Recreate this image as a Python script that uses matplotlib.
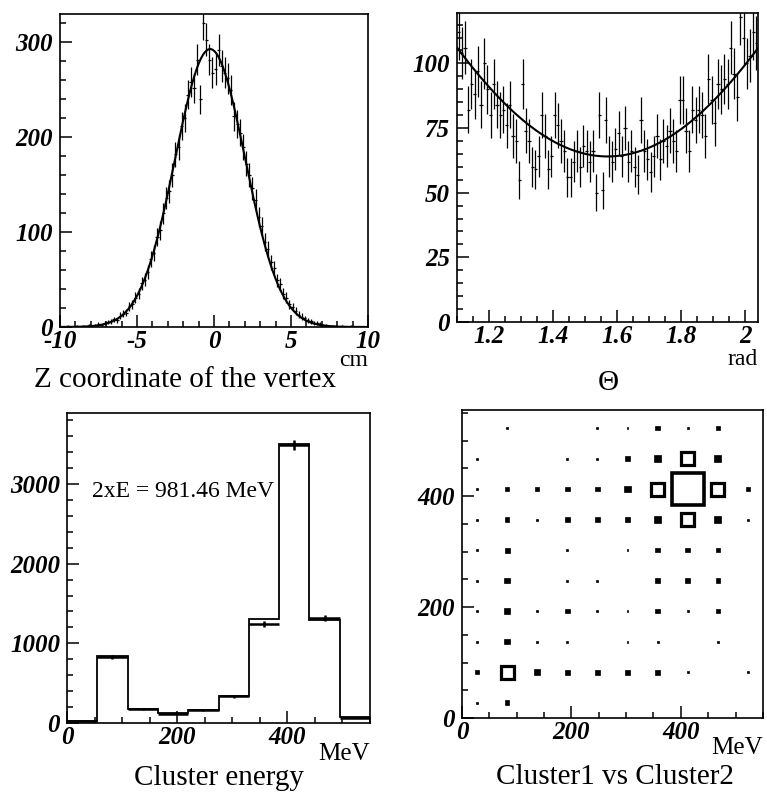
import matplotlib
matplotlib.use('Agg')

import matplotlib.pyplot as plt
import numpy as np
from matplotlib.ticker import MultipleLocator
from matplotlib.patches import Rectangle

plt.rcParams['font.family'] = ['Liberation Serif', 'DejaVu Serif']

# --- Z coordinate of the vertex: 100 bins of 0.2 cm from -10 to 10
z_edges = np.linspace(-10, 10, 101)
z_counts = [0, 0, 1, 0, 0, 1, 0, 1, 0, 2,
            1, 2, 3, 2, 4, 5, 6, 8, 7, 12,
            14, 15, 22, 24, 31, 35, 46, 50, 58, 72,
            78, 95, 102, 120, 136, 143, 160, 182, 190, 212,
            220, 245, 258, 252, 282, 240, 320, 303, 282, 268,
            272, 292, 275, 268, 262, 250, 222, 214, 205, 190,
            172, 160, 146, 134, 116, 106, 90, 82, 68, 62,
            49, 45, 35, 31, 24, 21, 17, 13, 11, 9,
            7, 6, 4, 4, 3, 2, 2, 1, 1, 1,
            0, 1, 0, 0, 1, 0, 0, 0, 0, 0]
z_fit_amp, z_fit_mean, z_fit_sigma = 293.0, -0.25, 2.27

# --- Theta: 94 bins of 0.01 rad from 1.10 to 2.04
th_edges = np.linspace(1.10, 2.04, 95)
th_counts = [112, 104, 106, 82, 92, 88, 97, 84, 100, 90,
             80, 92, 84, 80, 82, 76, 84, 72, 70, 55,
             92, 74, 70, 60, 59, 64, 80, 72, 59, 64,
             80, 76, 70, 66, 56, 56, 62, 66, 60, 68,
             66, 62, 66, 50, 80, 51, 78, 64, 62, 67,
             73, 64, 75, 62, 66, 60, 57, 78, 66, 63,
             58, 64, 72, 63, 70, 68, 74, 70, 66, 86,
             86, 74, 66, 82, 78, 82, 80, 72, 94, 86,
             77, 92, 90, 94, 92, 106, 96, 87, 118, 110,
             100, 103, 112, 108]
th_fit_min, th_fit_b = 64.0, 3.2

# --- Cluster energy: 10 bins of 55 MeV
e_edges = np.linspace(0, 550, 11)
e_mc = [20, 840, 175, 121, 162, 337, 1300, 3500, 1290, 70]
e_data = [25, 830, 172, 118, 160, 335, 1240, 3490, 1320, 65]

# --- Cluster1 vs Cluster2: 10x10 bins of 55 MeV (rows = Cluster2, cols = Cluster1)
c_edges = np.linspace(0, 550, 11)
c_counts = [
    [10, 60, 0, 0, 0, 0, 0, 0, 0, 0],
    [50, 500, 90, 60, 60, 60, 60, 10, 0, 10],
    [10, 90, 10, 10, 0, 10, 10, 0, 10, 0],
    [10, 90, 10, 60, 10, 10, 60, 10, 60, 0],
    [10, 90, 0, 10, 10, 0, 60, 60, 60, 0],
    [10, 80, 0, 10, 0, 10, 60, 60, 60, 0],
    [10, 60, 10, 60, 60, 60, 160, 500, 160, 10],
    [10, 60, 60, 60, 60, 110, 500, 3000, 500, 60],
    [10, 0, 0, 10, 10, 60, 160, 500, 160, 0],
    [0, 10, 0, 0, 10, 10, 60, 10, 60, 0],
]

tl_xticks, tl_xlabels = [-10, -5, 0, 5, 10], ['-10', '-5', '0', '5', '10']
tl_yticks, tl_ylabels = [0, 100, 200, 300], ['0', '100', '200', '300']
tr_xticks, tr_xlabels = [1.2, 1.4, 1.6, 1.8, 2.0], ['1.2', '1.4', '1.6', '1.8', '2']
tr_yticks, tr_ylabels = [0, 25, 50, 75, 100], ['0', '25', '50', '75', '100']
bl_xticks, bl_xlabels = [0, 200, 400], ['0', '200', '400']
bl_yticks, bl_ylabels = [0, 1000, 2000, 3000], ['0', '1000', '2000', '3000']
br_xticks, br_xlabels = [0, 200, 400], ['0', '200', '400']
br_yticks, br_ylabels = [0, 200, 400], ['0', '200', '400']

tick_font = dict(family='Liberation Serif', weight='bold', style='italic', size=18)


def style_axes(ax, xt, xl, yt, yl, xminor, yminor):
    ax.set_xticks(xt)
    ax.set_xticklabels(xl, fontdict=tick_font)
    ax.set_yticks(yt)
    ax.set_yticklabels(yl, fontdict=tick_font)
    ax.xaxis.set_minor_locator(MultipleLocator(xminor))
    ax.yaxis.set_minor_locator(MultipleLocator(yminor))
    ax.tick_params(which='both', direction='in', top=False, right=False, width=1.1)
    ax.tick_params(which='major', length=8.5)
    ax.tick_params(axis='x', which='major', pad=2.5)
    ax.tick_params(axis='y', which='major', pad=5)
    ax.tick_params(which='minor', length=4.5)
    for s in ax.spines.values():
        s.set_linewidth(1.2)


fig = plt.figure(figsize=(7.67, 7.94), dpi=100)

# Top left
ax1 = fig.add_axes([0.0782, 0.5882, 0.4016, 0.3942])
zc = 0.5 * (z_edges[:-1] + z_edges[1:])
zn = np.array(z_counts, dtype=float)
ax1.errorbar(zc, zn, xerr=0.1, yerr=np.sqrt(zn), fmt='none', ecolor='black', elinewidth=0.9)
zz = np.linspace(-10, 10, 400)
ax1.plot(zz, z_fit_amp * np.exp(-(zz - z_fit_mean) ** 2 / (2 * z_fit_sigma ** 2)), color='black', lw=1.5)
ax1.set_xlim(-10, 10)
ax1.set_ylim(0, 330)
style_axes(ax1, tl_xticks, tl_xlabels, tl_yticks, tl_ylabels, 1, 20)
ax1.text(1.0, -0.124, 'cm', transform=ax1.transAxes, ha='right', va='baseline', fontsize=17)

# Top right
ax2 = fig.add_axes([0.5958, 0.5945, 0.3924, 0.3892])
tc = 0.5 * (th_edges[:-1] + th_edges[1:])
tn = np.array(th_counts, dtype=float)
ax2.errorbar(tc, tn, xerr=0.005, yerr=np.sqrt(tn), fmt='none', ecolor='black', elinewidth=0.9)
tt = np.linspace(1.10, 2.04, 300)
ax2.plot(tt, th_fit_min * (1 + th_fit_b * np.cos(tt) ** 2), color='black', lw=1.5)
ax2.set_xlim(1.10, 2.04)
ax2.set_ylim(0, 119.5)
style_axes(ax2, tr_xticks, tr_xlabels, tr_yticks, tr_ylabels, 0.05, 5)
ax2.text(1.0, -0.14, 'rad', transform=ax2.transAxes, ha='right', va='baseline', fontsize=17)

# Bottom left
ax3 = fig.add_axes([0.0874, 0.0894, 0.395, 0.3904])
ax3.stairs(e_mc, e_edges, color='black', lw=1.3)
ec = 0.5 * (e_edges[:-1] + e_edges[1:])
en = np.array(e_data, dtype=float)
ax3.errorbar(ec, en, xerr=27.5, yerr=np.sqrt(en), fmt='none', ecolor='black', elinewidth=1.8)
ax3.set_xlim(0, 550)
ax3.set_ylim(0, 3890)
style_axes(ax3, bl_xticks, bl_xlabels, bl_yticks, bl_ylabels, 50, 200)
ax3.text(45, 2910, '2xE = 981.46 MeV', va='center', ha='left', fontsize=17)
ax3.text(1.0, -0.12, 'MeV', transform=ax3.transAxes, ha='right', va='baseline', fontsize=18)

# Bottom right
ax4 = fig.add_axes([0.6023, 0.0957, 0.3924, 0.3879])
cc = 0.5 * (c_edges[:-1] + c_edges[1:])
cmax = max(max(r) for r in c_counts)
for iy, row in enumerate(c_counts):
    for ix, n in enumerate(row):
        if n <= 0:
            continue
        side = 58.0 * np.sqrt(n / cmax)
        x0, y0 = cc[ix] - side / 2, cc[iy] - side / 2
        if side > 16:
            lw = 2.6 if n == cmax else 2.3
            ax4.add_patch(Rectangle((x0, y0), side, side, fill=False, ec='black', lw=lw))
        else:
            ax4.add_patch(Rectangle((x0, y0), side, side, fc='black', ec='black', lw=0.5))
ax4.set_xlim(0, 550)
ax4.set_ylim(0, 555)
style_axes(ax4, br_xticks, br_xlabels, br_yticks, br_ylabels, 50, 50)
ax4.text(1.0, -0.118, 'MeV', transform=ax4.transAxes, ha='right', va='baseline', fontsize=18)

# Captions under the panels
fig.text(185 / 767, 1 - 387 / 794, 'Z coordinate of the vertex', ha='center', va='baseline', fontsize=21)
fig.text(608 / 767, 1 - 390 / 794, 'Θ', ha='center', va='baseline', fontsize=21)
fig.text(219 / 767, 1 - 785 / 794, 'Cluster energy', ha='center', va='baseline', fontsize=21)
fig.text(615 / 767, 1 - 784 / 794, 'Cluster1 vs Cluster2', ha='center', va='baseline', fontsize=21)

fig.savefig('out.png', dpi=100)
